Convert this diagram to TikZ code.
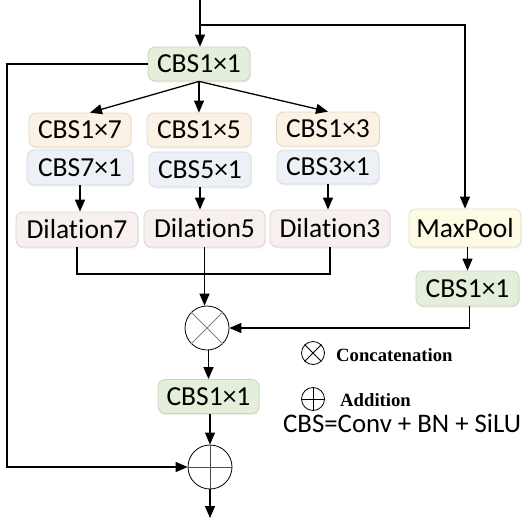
\documentclass[tikz,border=0pt]{standalone}
\usepackage{fontspec}
\setmainfont{Carlito}[Ligatures={NoCommon}]
\newfontfamily\legfont{Liberation Serif}
\usetikzlibrary{arrows.meta,shadows}
\definecolor{gfill}{HTML}{E3EFDA}\definecolor{gdraw}{HTML}{C6D6BC}
\definecolor{ofill}{HTML}{FBF2E5}\definecolor{odraw}{HTML}{E3D8C8}
\definecolor{bfill}{HTML}{EDF1F7}\definecolor{bdraw}{HTML}{D3DAE4}
\definecolor{dfill}{HTML}{F7F0EF}\definecolor{ddraw}{HTML}{DDD3D1}
\definecolor{yfill}{HTML}{FDFBE4}\definecolor{ydraw}{HTML}{E2DEC2}
\tikzset{
  blk/.style={rounded corners=7pt, inner sep=0pt, line width=0.8pt,
    font=\fontsize{27.5}{30}\selectfont,
    drop shadow={opacity=0.12, shadow xshift=0.8pt, shadow yshift=-1.5pt}},
  green/.style={blk, fill=gfill, draw=gdraw},
  orng/.style={blk, fill=ofill, draw=odraw},
  blue/.style={blk, fill=bfill, draw=bdraw},
  dil/.style={blk, fill=dfill, draw=ddraw},
  yel/.style={blk, fill=yfill, draw=ydraw},
  opc/.style={circle, draw=black, line width=0.8pt, inner sep=0pt},
  arr/.style={line width=1.3pt, -{Triangle[length=12pt,width=10pt]}},
  ln/.style={line width=1.3pt},
}
\begin{document}
\begin{tikzpicture}[x=1pt,y=-1pt]
\useasboundingbox (0,0) rectangle (524,520);
% boxes
\node[green, minimum width=102pt, minimum height=34pt] (cbsA) at (199,64) {CBS1×1};
\node[orng, minimum width=102pt, minimum height=34pt] (c17) at (80,130) {CBS1×7};
\node[orng, minimum width=104pt, minimum height=34pt] (c15) at (199,130) {CBS1×5};
\node[orng, minimum width=103pt, minimum height=34pt] (c13) at (328,129) {CBS1×3};
\node[blue, minimum width=106pt, minimum height=35pt] (c71) at (80,167.5) {CBS7×1};
\node[blue, minimum width=102pt, minimum height=35pt] (c51) at (200,169.5) {CBS5×1};
\node[blue, minimum width=102pt, minimum height=34pt] (c31) at (328,167) {CBS3×1};
\node[dil, minimum width=122pt, minimum height=35pt] (d7) at (77,229.5) {Dilation7};
\node[dil, minimum width=121pt, minimum height=37pt] (d5) at (204.5,228.5) {Dilation5};
\node[dil, minimum width=120pt, minimum height=37pt] (d3) at (330,228.5) {Dilation3};
\node[yel, minimum width=112pt, minimum height=38pt] (mp) at (465,228) {MaxPool};
\node[green, minimum width=103pt, minimum height=35pt] (cbsB) at (467.5,288.5) {CBS1×1};
\node[green, minimum width=101pt, minimum height=34pt] (cbsC) at (208.5,396.5) {CBS1×1};
% operators
\node[opc, minimum size=44pt] (cat) at (207,328) {};
\draw[gray, line width=0.9pt] (cat.north west) -- (cat.south east) (cat.north east) -- (cat.south west);
\node[opc, minimum size=44pt] (add) at (210,467) {};
\draw[black!70, line width=0.9pt] (add.north) -- (add.south) (add.west) -- (add.east);
% coordinates
\coordinate (in) at (200,0);
\coordinate (br) at (200,25);
\coordinate (out) at (210,518);
\coordinate (lt) at (7,64);
\coordinate (lb) at (7,467);
\coordinate (jn) at (205,274);
% connectors
\draw[arr] (in) -- (in |- cbsA.north);
\draw[arr] (br) -| (mp.north);
\draw[arr] (cbsA.west) -- (lt) -- (lb) -- (add.west);
\draw[arr] (cbsA.south) -- ([xshift=10pt]c17.north);
\draw[arr] (cbsA.south) -- (cbsA.south |- c15.north);
\draw[arr] (cbsA.south) -- (c13.north);
\draw[arr] (c71.south) -- (c71.south |- d7.north);
\draw[arr] (c51.south) -- (c51.south |- d5.north);
\draw[arr] (c31.south) -- (c31.south |- d3.north);
\draw[ln] (d7.south) |- (jn) -| (d3.south);
\draw[arr] (d5.south) -- (d5.south |- cat.north);
\draw[arr] (mp.south -| cbsB.north) -- (cbsB.north);
\draw[arr] ([xshift=2pt]cbsB.south) |- (cat.east);
\draw[arr] (cat.south -| cbsC.north) -- (cbsC.north);
\draw[arr] (cbsC.south -| add.north) -- (add.north);
\draw[arr] (add.south) -- (out);
% legend
\node[opc, minimum size=23pt] (lcat) at (313,353) {};
\draw[black, line width=0.8pt] (lcat.north west) -- (lcat.south east) (lcat.north east) -- (lcat.south west);
\node[anchor=west, inner sep=0pt, font=\legfont\bfseries\fontsize{18.7}{20}\selectfont] (tcat) at (336,355) {Concatenation};
\node[opc, minimum size=23pt] (ladd) at (313,399) {};
\draw[black, line width=0.8pt] (ladd.north) -- (ladd.south) (ladd.west) -- (ladd.east);
\node[anchor=west, inner sep=0pt, font=\legfont\bfseries\fontsize{18.7}{20}\selectfont] (tadd) at (340,400) {Addition};
\node[anchor=west, inner sep=0pt, font=\fontsize{26.8}{30}\selectfont] (cbsdef) at (283,423) {CBS=Conv + BN + SiLU};
\end{tikzpicture}
\end{document}
